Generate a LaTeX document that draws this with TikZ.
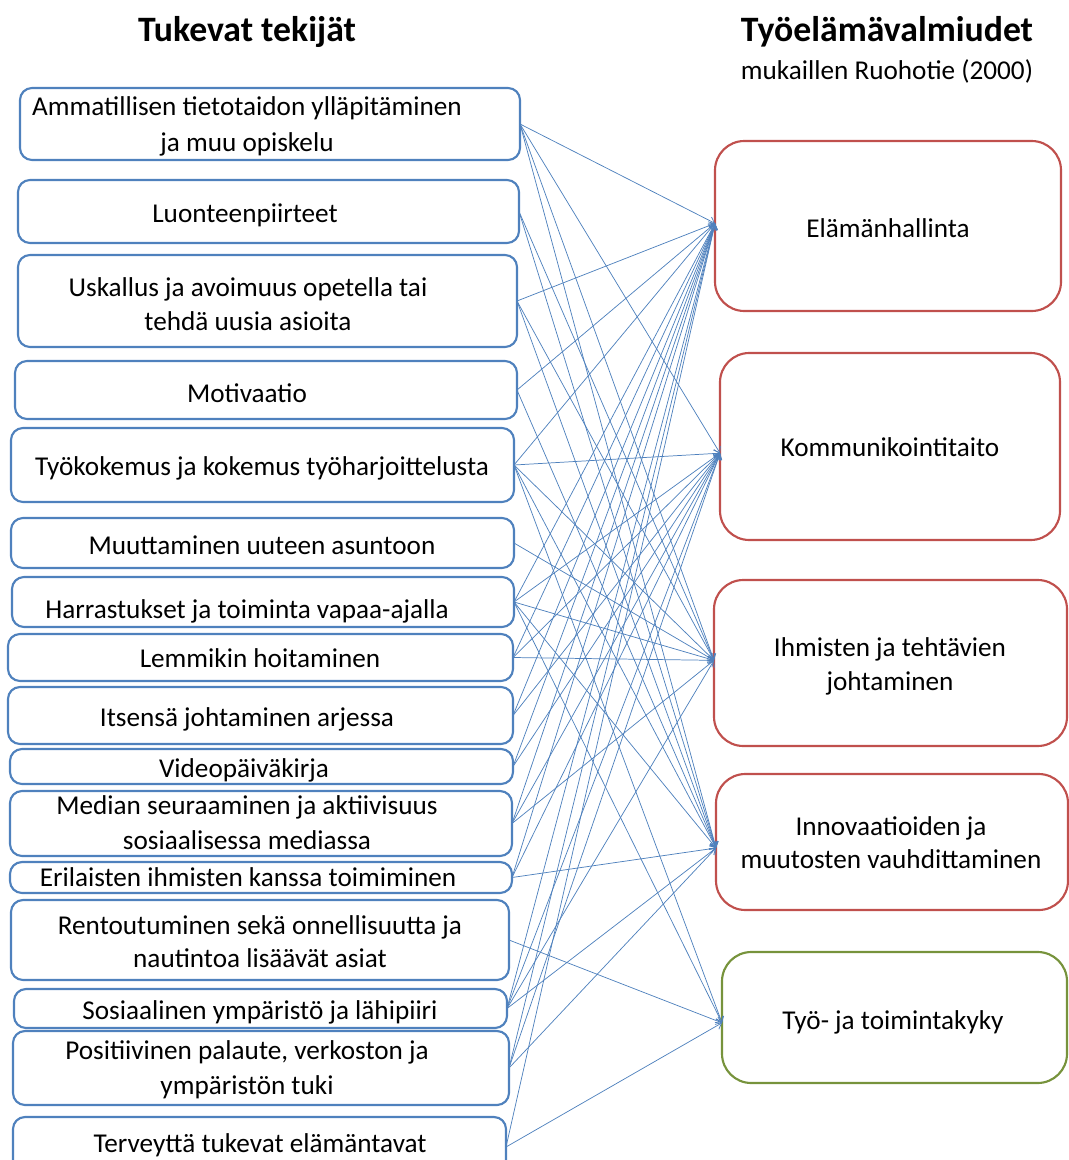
\documentclass[tikz,border=0pt]{standalone}
\usepackage{fontspec}
\setmainfont{Carlito}
\usetikzlibrary{arrows.meta}
\definecolor{bl}{HTML}{4F81BD}
\definecolor{rd}{HTML}{C0504D}
\definecolor{gr}{HTML}{77933C}
\begin{document}
\begin{tikzpicture}[x=0.75pt,y=-0.75pt,
  lbox/.style={draw=bl, line width=1.6pt, rounded corners=9pt, inner sep=0pt, outer sep=0pt},
  rbox/.style={line width=1.6pt, rounded corners=22pt, inner sep=0pt, outer sep=0pt},
  lbl/.style={font=\fontsize{20.4}{27}\selectfont, inner sep=0pt, text height=14pt, text depth=4pt},
  ttl/.style={font=\bfseries\fontsize{26.8}{32}\selectfont, inner sep=0pt, text height=19pt, text depth=5pt},
  conn/.style={draw=bl, line width=0.55pt, -{Straight Barb[length=4pt,width=6pt]}}]
\useasboundingbox (0,0) rectangle (1069,1160);
\clip (0,0) rectangle (1069,1160);
% titles
\node[ttl] (h1) at (247,32) {Tukevat tekijät};
\node[ttl] (h2) at (887,32) {Työelämävalmiudet};
\node[lbl] (h3) at (887,73) {mukaillen Ruohotie (2000)};
% left boxes
\node[lbox, minimum width=375pt,    minimum height=54pt]    (s1)  at (270,124) {};
\node[lbox, minimum width=375.75pt, minimum height=47.25pt] (s2)  at (268.5,211.5) {};
\node[lbox, minimum width=374.25pt, minimum height=69pt]    (s3)  at (267.5,301) {};
\node[lbox, minimum width=376.5pt,  minimum height=43.5pt]  (s4)  at (266,390) {};
\node[lbox, minimum width=377.25pt, minimum height=55.5pt]  (s5)  at (262.5,465) {};
\node[lbox, minimum width=377.25pt, minimum height=37.5pt]  (s6)  at (262.5,543) {};
\node[lbox, minimum width=376.5pt,  minimum height=37.5pt]  (s7)  at (263,602) {};
\node[lbox, minimum width=378.75pt, minimum height=35.25pt] (s8)  at (260.5,657.5) {};
\node[lbox, minimum width=378.75pt, minimum height=42.75pt] (s9)  at (260.5,715.5) {};
\node[lbox, minimum width=377.25pt, minimum height=26.25pt] (s10) at (261.5,766.5) {};
\node[lbox, minimum width=376.5pt,  minimum height=48.75pt] (s11) at (261,823.5) {};
\node[lbox, minimum width=376.5pt,  minimum height=23.25pt] (s12) at (261,877.5) {};
\node[lbox, minimum width=373.5pt,  minimum height=60pt]    (s13) at (260,940) {};
\node[lbox, minimum width=369.75pt, minimum height=29.25pt] (s14) at (260.5,1008.5) {};
\node[lbox, minimum width=372pt,    minimum height=55.5pt]  (s15) at (261,1068) {};
\node[lbox, minimum width=369.75pt, minimum height=45pt]    (s16) at (259.5,1147) {};
% left texts
\node[lbl] (t1a) at (247,109) {Ammatillisen tietotaidon ylläpitäminen};
\node[lbl] (t1b) at (247,145) {ja muu opiskelu};
\node[lbl] (t2)  at (245,216) {Luonteenpiirteet};
\node[lbl] (t3a) at (248,290) {Uskallus ja avoimuus opetella tai};
\node[lbl] (t3b) at (248,324) {tehdä uusia asioita};
\node[lbl] (t4)  at (247,396) {Motivaatio};
\node[lbl] (t5)  at (262,469) {Työkokemus ja kokemus työharjoittelusta};
\node[lbl] (t6)  at (262,548) {Muuttaminen uuteen asuntoon};
\node[lbl] (t7)  at (247,612) {Harrastukset ja toiminta vapaa-ajalla};
\node[lbl] (t8)  at (260,661) {Lemmikin hoitaminen};
\node[lbl] (t9)  at (247,720) {Itsensä johtaminen arjessa};
\node[lbl] (t10) at (244,771) {Videopäiväkirja};
\node[lbl] (t11a) at (247,808) {Median seuraaminen ja aktiivisuus};
\node[lbl] (t11b) at (247,843) {sosiaalisessa mediassa};
\node[lbl] (t12) at (248,880) {Erilaisten ihmisten kanssa toimiminen};
\node[lbl] (t13a) at (260,928) {Rentoutuminen sekä onnellisuutta ja};
\node[lbl] (t13b) at (260,961) {nautintoa lisäävät asiat};
\node[lbl] (t14) at (260,1013) {Sosiaalinen ympäristö ja lähipiiri};
\node[lbl] (t15a) at (247,1053) {Positiivinen palaute, verkoston ja};
\node[lbl] (t15b) at (247,1088) {ympäristön tuki};
\node[lbl] (t16) at (260,1146) {Terveyttä tukevat elämäntavat};
% right boxes
\node[rbox, draw=rd, minimum width=259.5pt,  minimum height=127.5pt]  (A) at (888,226) {};
\node[rbox, draw=rd, minimum width=255pt,    minimum height=140.25pt] (B) at (890,446.5) {};
\node[rbox, draw=rd, minimum width=264.75pt, minimum height=124.5pt]  (C) at (890.5,663) {};
\node[rbox, draw=rd, minimum width=264pt,    minimum height=102pt]    (D) at (892,842) {};
\node[rbox, draw=gr, minimum width=258.75pt, minimum height=98.25pt]  (E) at (894.5,1017.5) {};
\node[lbl] (ta)  at (888,231) {Elämänhallinta};
\node[lbl] (tb)  at (890,450) {Kommunikointitaito};
\node[lbl] (tc1) at (890,650) {Ihmisten ja tehtävien};
\node[lbl] (tc2) at (890,684) {johtaminen};
\node[lbl] (td1) at (891,829) {Innovaatioiden ja};
\node[lbl] (td2) at (891,862) {muutosten vauhdittaminen};
\node[lbl] (te)  at (893,1023) {Työ- ja toimintakyky};
% arrival points
\coordinate (Ain) at ([yshift=2pt]A.west);
\coordinate (Bin) at ([yshift=-5pt]B.west);
\coordinate (Cin) at ([yshift=2pt]C.west);
\coordinate (Din) at ([yshift=-4.5pt]D.west);
\coordinate (Ein) at ([yshift=-4pt]E.west);
% connectors
\foreach \s/\t in {s1/A,s1/B,s1/C,s1/D,
                   s2/C,s2/D,
                   s3/A,s3/C,s3/D,
                   s4/A,s4/D,
                   s5/A,s5/B,s5/C,s5/D,s5/E,
                   s6/C,
                   s7/A,s7/B,s7/C,s7/D,s7/E,
                   s8/A,s8/B,s8/C,
                   s9/A,s9/B,
                   s10/A,s10/B,
                   s11/A,s11/B,s11/C,
                   s12/A,s12/B,s12/D,
                   s13/E,
                   s14/A,s14/B,s14/C,s14/D,
                   s15/A,s15/B,s15/D,
                   s16/A,s16/E}
  \draw[conn] (\s.east) -- (\t in);
\end{tikzpicture}
\end{document}
